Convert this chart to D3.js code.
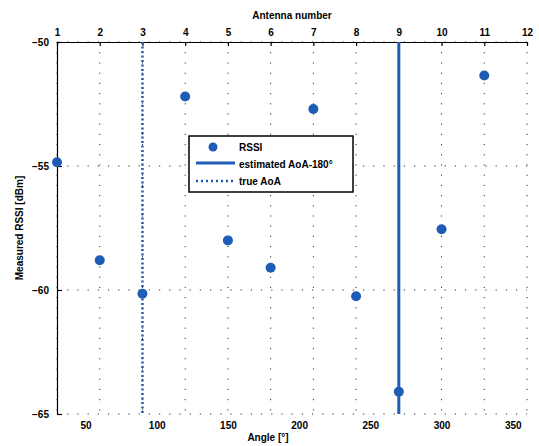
<!DOCTYPE html>
<meta charset="utf-8">
<style>
    body { margin: 0; background: #ffffff; }
    text {
        font-family: "Liberation Sans", Arial, sans-serif;
        font-weight: bold;
        font-size: 10px;
    }
    .axis path, .axis line { stroke: #000000; stroke-width: 1.2px; }
    .grid line {
        stroke: #333333;
        stroke-width: 1px;
        stroke-dasharray: 1.2, 9;
    }
</style>
<svg width="539" height="446"></svg>
<script src="https://d3js.org/d3.v7.min.js"></script>
<script>

    // data
    var antennas = [1, 2, 3, 4, 5, 6, 7, 8, 9, 10, 11];
    var angles = [30, 60, 90, 120, 150, 180, 210, 240, 270, 300, 330];
    var rssi = [-54.85, -58.8, -60.15, -52.2, -58.0, -59.1, -52.7, -60.25, -64.1, -57.55, -51.35];
    var estimatedAoA = [270];
    var trueAoA = [90];
    var antennaTicks = [1, 2, 3, 4, 5, 6, 7, 8, 9, 10, 11, 12];
    var angleTicks = [50, 100, 150, 200, 250, 300, 350];
    var rssiTicks = [-50, -55, -60, -65];
    var legendLabels = ["RSSI", "estimated AoA-180\u00b0", "true AoA"];

    var blue = "#1f5cb6";

    var svg = d3.select("svg"),
        plotLeft = 57, plotRight = 527, plotTop = 42, plotBottom = 414;

    var xAngle = d3.scaleLinear().domain([30, 360]).range([plotLeft, plotRight]);
    var xAnt = d3.scaleLinear().domain([1, 12]).range([plotLeft, plotRight]);
    var y = d3.scaleLinear().domain([-65, -50]).range([plotBottom, plotTop]);

    // grid
    var grid = svg.append("g").attr("class", "grid");
    grid.selectAll("line.v")
        .data(antennaTicks)
        .enter().append("line")
        .attr("class", "v")
        .attr("x1", function (d) { return xAnt(d); })
        .attr("x2", function (d) { return xAnt(d); })
        .attr("y1", plotTop)
        .attr("y2", plotBottom);
    grid.selectAll("line.h")
        .data(rssiTicks)
        .enter().append("line")
        .attr("class", "h")
        .attr("x1", plotLeft)
        .attr("x2", plotRight)
        .attr("y1", function (d) { return y(d); })
        .attr("y2", function (d) { return y(d); });

    // axes
    var topAxis = svg.append("g")
        .attr("class", "axis")
        .attr("transform", "translate(0," + plotTop + ")")
        .call(d3.axisTop(xAnt).tickValues(antennaTicks).tickFormat(d3.format("d"))
            .tickSizeInner(-4).tickSizeOuter(0).tickPadding(6));
    topAxis.selectAll("text").style("font-size", "10px").style("font-family", null);

    var leftAxis = svg.append("g")
        .attr("class", "axis")
        .attr("transform", "translate(" + plotLeft + ",0)")
        .call(d3.axisLeft(y).tickValues(rssiTicks).tickFormat(d3.format("d"))
            .tickSizeInner(-5).tickSizeOuter(0).tickPadding(8));
    leftAxis.selectAll("text").style("font-size", "10px").style("font-family", null);

    var bottomAxis = svg.append("g")
        .attr("class", "axis")
        .attr("transform", "translate(0," + plotBottom + ")")
        .call(d3.axisBottom(xAngle).tickValues(angleTicks).tickSize(0).tickPadding(8));
    bottomAxis.select(".domain").remove();
    bottomAxis.selectAll("text").style("font-size", "10px").style("font-family", null);

    // axis titles
    svg.append("text")
        .attr("x", (plotLeft + plotRight) / 2)
        .attr("y", 19)
        .attr("text-anchor", "middle")
        .text("Antenna number");
    svg.append("text")
        .attr("x", 268)
        .attr("y", 441)
        .attr("text-anchor", "middle")
        .text("Angle [\u00b0]");
    svg.append("text")
        .attr("transform", "translate(23," + (plotTop + plotBottom) / 2 + ") rotate(-90)")
        .attr("text-anchor", "middle")
        .text("Measured RSSI [dBm]");

    // vertical lines
    svg.selectAll("line.est")
        .data(estimatedAoA)
        .enter().append("line")
        .attr("class", "est")
        .attr("x1", function (d) { return xAngle(d); })
        .attr("x2", function (d) { return xAngle(d); })
        .attr("y1", plotTop)
        .attr("y2", plotBottom)
        .style("stroke", blue)
        .style("stroke-width", 3);
    svg.selectAll("line.true")
        .data(trueAoA)
        .enter().append("line")
        .attr("class", "true")
        .attr("x1", function (d) { return xAngle(d); })
        .attr("x2", function (d) { return xAngle(d); })
        .attr("y1", plotTop)
        .attr("y2", plotBottom)
        .style("stroke", blue)
        .style("stroke-width", 2.5)
        .style("stroke-dasharray", "2,2.5");

    // points
    svg.selectAll("circle.pt")
        .data(angles)
        .enter().append("circle")
        .attr("class", "pt")
        .attr("cx", function (d) { return xAngle(d); })
        .attr("cy", function (d, i) { return y(rssi[i]); })
        .attr("r", 5)
        .style("fill", blue);

    // legend
    var legend = svg.append("g").attr("transform", "translate(189,136)");
    legend.append("rect")
        .attr("width", 164)
        .attr("height", 56)
        .style("fill", "#ffffff")
        .style("stroke", "#000000")
        .style("stroke-width", 1.5);
    legend.append("circle")
        .attr("cx", 24).attr("cy", 11).attr("r", 4.5)
        .style("fill", blue);
    legend.append("line")
        .attr("x1", 7).attr("x2", 46).attr("y1", 27).attr("y2", 27)
        .style("stroke", blue).style("stroke-width", 3);
    legend.append("line")
        .attr("x1", 7).attr("x2", 46).attr("y1", 45).attr("y2", 45)
        .style("stroke", blue).style("stroke-width", 2.5).style("stroke-dasharray", "2,3");
    legend.selectAll("text.lab")
        .data(legendLabels)
        .enter().append("text")
        .attr("class", "lab")
        .attr("x", 50)
        .attr("y", function (d, i) { return 15 + i * 17; })
        .text(function (d) { return d; });

</script>
